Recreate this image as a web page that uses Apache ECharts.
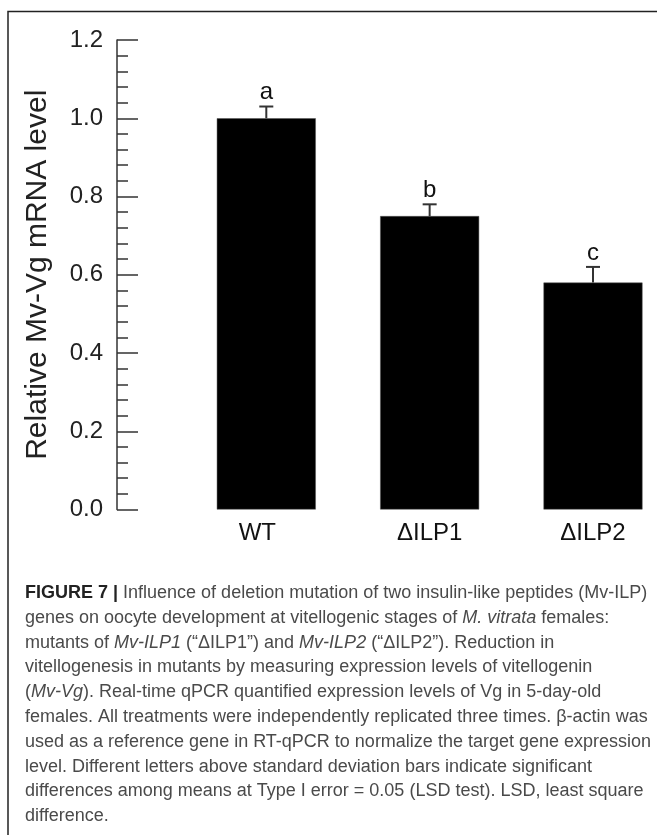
<!DOCTYPE html>
<html>
<head>
<meta charset="utf-8">
<script src="https://cdn.jsdelivr.net/npm/echarts@6/dist/echarts.min.js"></script>
<style>
  html, body { margin: 0; padding: 0; background: #fff; }
  #chart { width: 657px; height: 835px; }
</style>
</head>
<body>
<div id="chart"></div>
<script>
// ---- data ----
const categories = ['WT', 'ΔILP1', 'ΔILP2'];
const means = [1.0, 0.75, 0.58];
const sdErrors = [0.03, 0.03, 0.04];
const letters = ['a', 'b', 'c'];
const yMin = 0, yMax = 1.2, yInterval = 0.2;
const yTitle = 'Relative Mv-Vg mRNA level';
const captionLines = [
  '{b|FIGURE 7 |} Influence of deletion mutation of two insulin-like peptides (Mv-ILP)',
  'genes on oocyte development at vitellogenic stages of {i|M. vitrata} females:',
  'mutants of {i|Mv-ILP1} (“ΔILP1”) and {i|Mv-ILP2} (“ΔILP2”). Reduction in',
  'vitellogenesis in mutants by measuring expression levels of vitellogenin',
  '({i|Mv-Vg}). Real-time qPCR quantified expression levels of Vg in 5-day-old',
  'females. All treatments were independently replicated three times. β-actin was',
  'used as a reference gene in RT-qPCR to normalize the target gene expression',
  'level. Different letters above standard deviation bars indicate significant',
  'differences among means at Type I error = 0.05 (LSD test). LSD, least square',
  'difference.'
];

const FONT = '"Liberation Sans", Arial, Helvetica, sans-serif';
const chart = echarts.init(document.getElementById('chart'), null, { renderer: 'canvas' });

const capSize = 18;
const captionGraphics = captionLines.map((t, k) => ({
  type: 'text',
  x: 25,
  y: 593 + k * 24.8,
  style: {
    text: t,
    font: capSize + 'px ' + FONT,
    fill: '#4a4a4a',
    verticalAlign: 'middle',
    align: 'left',
    rich: {
      b: { font: 'bold ' + capSize + 'px ' + FONT, fill: '#222' },
      i: { font: 'italic ' + capSize + 'px ' + FONT, fill: '#4a4a4a' }
    }
  }
}));

const option = {
  animation: false,
  backgroundColor: '#fff',
  grid: { left: 266.3, right: 64, top: 40, bottom: 325.5, containLabel: false },
  xAxis: {
    type: 'category',
    data: categories.map((c, i) => i === 0
      ? { value: c, textStyle: { padding: [0, 18, 0, 0] } }
      : c),
    boundaryGap: false,
    axisLine: { show: false },
    axisTick: { show: false },
    axisLabel: { fontSize: 24, color: '#111', fontFamily: FONT, margin: 12 },
    splitLine: { show: false }
  },
  yAxis: {
    type: 'value',
    min: yMin, max: yMax, interval: yInterval,
    offset: 149.3,
    name: yTitle,
    nameLocation: 'middle',
    nameRotate: 90,
    nameGap: 64,
    nameTextStyle: { fontSize: 30, color: '#222', fontFamily: FONT },
    axisLine: { show: true, lineStyle: { color: '#333', width: 1.5 } },
    axisTick: { show: true, inside: true, length: 21, lineStyle: { color: '#333', width: 1.5 } },
    minorTick: { show: true, splitNumber: 5, length: 11, lineStyle: { color: '#333', width: 1.5 } },
    axisLabel: {
      fontSize: 24, color: '#222', fontFamily: FONT, margin: 14,
      formatter: v => v.toFixed(1)
    },
    splitLine: { show: false },
    minorSplitLine: { show: false }
  },
  graphic: [
    {
      type: 'polyline',
      shape: { points: [[8, 835], [8, 11.5], [657, 11.5]] },
      style: { stroke: '#222', lineWidth: 1.5, fill: null }
    }
  ].concat(captionGraphics),
  series: [
    {
      type: 'bar',
      data: means,
      barWidth: 99,
      itemStyle: { color: '#000', borderColor: '#555', borderWidth: 0.5 },
      z: 2
    },
    {
      type: 'custom',
      z: 3,
      data: categories.map((c, i) => [i, means[i], sdErrors[i]]),
      renderItem: function (params, api) {
        const idx = params.dataIndex;
        const m = api.value(1), e = api.value(2);
        const top = api.coord([idx, m]);
        const cap = api.coord([idx, m + e]);
        const stroke = { stroke: '#333', lineWidth: 2 };
        return {
          type: 'group',
          children: [
            { type: 'line', shape: { x1: top[0], y1: top[1], x2: cap[0], y2: cap[1] }, style: stroke },
            { type: 'line', shape: { x1: cap[0] - 7, y1: cap[1], x2: cap[0] + 7, y2: cap[1] }, style: stroke },
            {
              type: 'text',
              style: {
                text: letters[idx], x: cap[0], y: cap[1] - 14,
                align: 'center', verticalAlign: 'middle',
                font: '24px ' + FONT, fill: '#111'
              }
            }
          ]
        };
      }
    }
  ]
};
chart.setOption(option);
</script>
</body>
</html>
